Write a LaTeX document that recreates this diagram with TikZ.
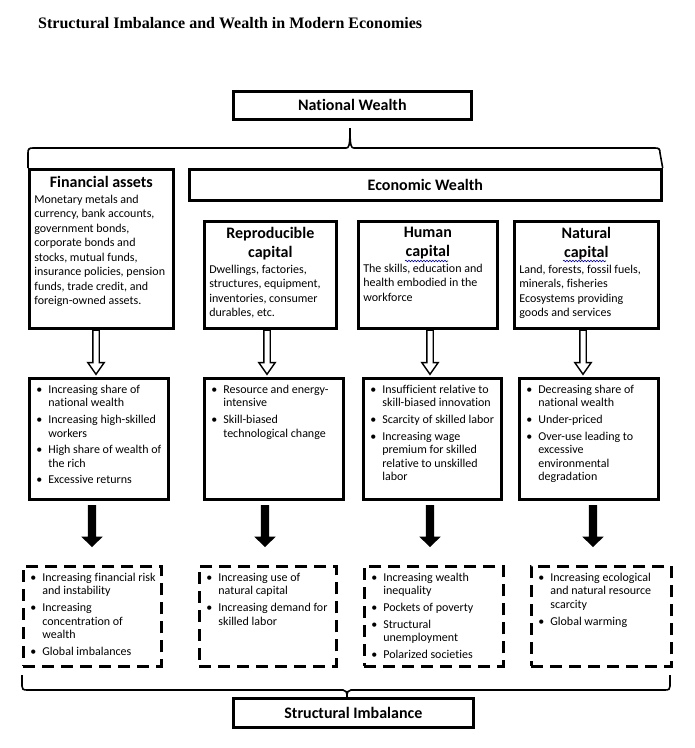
\documentclass[tikz,border=0pt]{standalone}
\usepackage{fontspec}
\usetikzlibrary{shapes.arrows,decorations.pathmorphing}
\newfontfamily\bodyfont[Ligatures=NoCommon]{Carlito}
\newfontfamily\titlefont{Liberation Serif}
\newcommand{\hfont}{\bfseries\fontsize{16}{19}\selectfont}
\newcommand{\cell}[3]{\parbox[c][#2pt][t]{#1pt}{\raggedright#3}}
\newcommand{\blist}{\fontsize{12}{13.6}\selectfont\setlength{\parskip}{3pt}}
\newcommand{\bul}[1]{\par\noindent\hangindent=14pt\hangafter=1\strut\makebox[14pt][l]{\hspace{2pt}\textbullet}{\let\\\newline#1}\strut\par}

\begin{document}
\begin{tikzpicture}[x=1pt, y=-1pt,
    box/.style={draw, line width=2.7pt, anchor=north west, inner xsep=5pt, inner ysep=0pt,
                font=\bodyfont\fontsize{12}{14.5}\selectfont},
    dbox/.style={box, dash pattern=on 12pt off 7pt},
    headbox/.style={draw, line width=2.7pt, anchor=north west, inner sep=0pt, font=\bodyfont\hfont},
    openarrow/.style={single arrow, draw, line width=1.4pt, fill=white, rotate=-90,
                      inner xsep=0pt, inner ysep=2.5pt, minimum height=44pt,
                      single arrow head extend=5pt, single arrow tip angle=70},
    blockarrow/.style={single arrow, fill=black, rotate=-90, inner xsep=0pt, inner ysep=4pt,
                       minimum height=42pt, single arrow head extend=6.5pt,
                       single arrow tip angle=92},
    brace/.style={line width=1.6pt},
    spell/.style={blue!70!black, line width=0.6pt, decorate,
                  decoration={snake, amplitude=0.8pt, segment length=3pt}}
]
    \useasboundingbox (0,0) rectangle (695,748);

    \node[anchor=base west, inner sep=0pt, font=\titlefont\bfseries\fontsize{16}{19}\selectfont] (title) at (38,28)
        {Structural Imbalance and Wealth in Modern Economies};

    \node[headbox, minimum width=238pt, minimum height=28pt] (natw) at (232,90) {National Wealth};
    \node[headbox, minimum width=472pt, minimum height=31pt] (econ) at (188,168) {Economic Wealth};

    % first row: kinds of wealth
    \node[box] (fin1) at (28,168) {\cell{134}{159}{\vspace*{7pt}{\centering\hfont Financial assets\par}\vspace{1pt}%
        Monetary metals and\\currency, bank accounts,\\government bonds,\\corporate bonds and\\stocks, mutual funds,\\insurance policies, pension\\funds, trade credit, and\\foreign-owned assets.}};
    \node[box] (repr1) at (203,220) {\cell{122}{107}{\vspace*{6pt}{\centering\hfont Reproducible\\capital\par}\vspace{1pt}%
        Dwellings, factories,\\structures, equipment,\\inventories, consumer\\durables, etc.}};
    \node[box] (human1) at (357,220) {\cell{129}{107}{\vspace*{6pt}{\centering\hfont Human\\capital\par}\vspace{1pt}%
        The skills, education and\\health embodied in the\\workforce}};
    \node[box] (nat1) at (513,220) {\cell{134}{107}{\vspace*{6pt}{\centering\hfont Natural\\capital\par}\vspace{1pt}%
        Land, forests, fossil fuels,\\minerals, fisheries\\Ecosystems providing\\goods and services}};
    % spell-check marks under "capital"
    \draw[spell] (405,261) -- (448,261);
    \draw[spell] (563,261) -- (606,261);

    % second row: features
    \node[box] (fin2) at (28,377) {\cell{129}{121}{\blist\vspace*{2.5pt}%
        \bul{Increasing share of\\national wealth}\bul{Increasing high-skilled\\workers}\bul{High share of wealth of\\the rich}\bul{Excessive returns}}};
    \node[box] (repr2) at (203,377) {\cell{129}{121}{\blist\vspace*{2.5pt}%
        \bul{Resource and energy-\\intensive}\bul{Skill-biased\\technological change}}};
    \node[box] (human2) at (362,377) {\cell{128}{121}{\blist\vspace*{2.5pt}%
        \bul{Insufficient relative to\\skill-biased innovation}\bul{Scarcity of skilled labor}\bul{Increasing wage\\premium for skilled\\relative to unskilled\\labor}}};
    \node[box] (nat2) at (518,377) {\cell{129}{121}{\blist\vspace*{2.5pt}%
        \bul{Decreasing share of\\national wealth}\bul{Under-priced}\bul{Over-use leading to\\excessive\\environmental\\degradation}}};

    % third row: outcomes
    \node[dbox] (fin3) at (22,565) {\cell{128}{100}{\blist\vspace*{2.5pt}%
        \bul{Increasing financial risk\\and instability}\bul{Increasing\\concentration of\\wealth}\bul{Global imbalances}}};
    \node[dbox] (repr3) at (198,565) {\cell{127}{100}{\blist\vspace*{2.5pt}%
        \bul{Increasing use of\\natural capital}\bul{Increasing demand for\\skilled labor}}};
    \node[dbox] (human3) at (363,565) {\cell{129}{100}{\blist\vspace*{2.5pt}%
        \bul{Increasing wealth\\inequality}\bul{Pockets of poverty}\bul{Structural\\unemployment}\bul{Polarized societies}}};
    \node[dbox] (nat3) at (530,565) {\cell{130}{100}{\blist\vspace*{2.5pt}%
        \bul{Increasing ecological\\and natural resource\\scarcity}\bul{Global warming}}};

    \node[headbox, minimum width=240pt, minimum height=29pt] (imbal) at (232,697) {Structural Imbalance};

    % arrows between rows
    \node[openarrow] (oa1) at (96,350) {};
    \node[openarrow] (oa2) at (267,350) {};
    \node[openarrow] (oa3) at (430,350) {};
    \node[openarrow] (oa4) at (583,350) {};
    \node[blockarrow] (ba1) at (92,524) {};
    \node[blockarrow] (ba2) at (265,524) {};
    \node[blockarrow] (ba3) at (430,524) {};
    \node[blockarrow] (ba4) at (593,524) {};

    % braces
    \draw[brace] (fin1.north west) -- (28,153) .. controls (28,149) and (29,148) .. (33,148) -- (346,148)
        .. controls (349,148) and (350,146) .. (350,128) .. controls (350,146) and (351,148) .. (354,148)
        -- (655,148) .. controls (659,148) and (660,149) .. (660,153) -- (econ.north east);
    \draw[brace] (22,675) -- (22,686) .. controls (22,689) and (23,690) .. (27,690) -- (343,690)
        .. controls (346,690) and (347,692) .. (347,697) .. controls (347,692) and (348,690) .. (351,690)
        -- (665,690) .. controls (669,690) and (670,689) .. (670,686) -- (670,675);
\end{tikzpicture}
\end{document}
